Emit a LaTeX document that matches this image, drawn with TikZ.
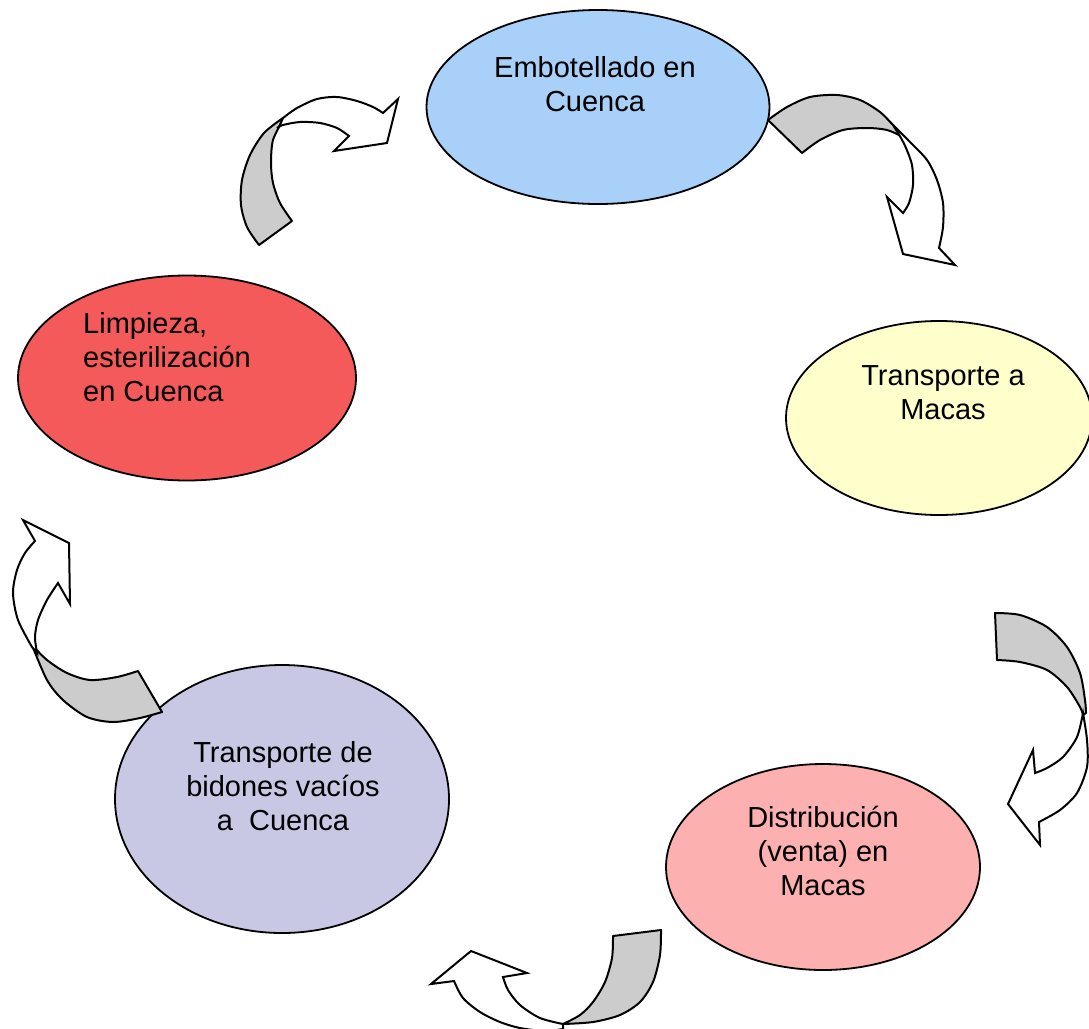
\documentclass[tikz,border=0pt]{standalone}
\usepackage{fontspec}
\setmainfont{Liberation Sans}
\usetikzlibrary{shapes.geometric}
\definecolor{cblue}{HTML}{A8D0F8}
\definecolor{cyellow}{HTML}{FFFFCC}
\definecolor{cpink}{HTML}{FCB0B0}
\definecolor{clav}{HTML}{C8C8E4}
\definecolor{cred}{HTML}{F45A5A}
\definecolor{cgray}{HTML}{CCCCCC}
\tikzset{
  stage/.style={ellipse, draw=black, line width=1.8pt, inner sep=0pt},
  lbl/.style={font=\fontsize{29}{34}\selectfont, align=center, inner sep=0pt},
  back/.style={fill=cgray, draw=black, line width=2pt, line join=round},
  front/.style={fill=white, draw=black, line width=2pt, line join=miter},
}
\begin{document}
\begin{tikzpicture}[x=1pt,y=-1pt]
\path[use as bounding box] (0,0) rectangle (1089,1028);
\begin{scope}
\clip (0,0) rectangle (1089,1028);
% ellipses
\node[stage, fill=cblue, minimum width=343pt, minimum height=194pt] (e1) at (598,107) {};
\node[stage, fill=cyellow, minimum width=306pt, minimum height=194pt] (e2) at (939,418) {};
\node[stage, fill=cpink, minimum width=314pt, minimum height=206pt] (e3) at (823,867) {};
\node[stage, fill=clav, minimum width=334pt, minimum height=268pt] (e4) at (282,799) {};
\node[stage, fill=cred, minimum width=338pt, minimum height=205pt] (e5) at (187,378) {};

% arrow 1 (top-left)
\filldraw[back] (259,245) -- (292,221)
  -- plot[smooth] coordinates {(292,221) (280,203) (273,183) (271,163) (273,140) (283,120)}
  -- plot[smooth] coordinates {(283,118) (264,133) (250,155) (242,180) (241,205) (247,227) (259,245)} -- cycle;
\filldraw[front] (279,127)
  -- plot[smooth] coordinates {(283,118) (297,108) (317,99) (337,97) (357,101) (373,107) (383,113)}
  -- (398,99) -- (387,143) -- (334,151) -- (349,136)
  -- plot[smooth] coordinates {(349,136) (337,128) (320,123) (300,122) (283,125) (277,128)} -- cycle;

% arrow 2 (top-right)
\filldraw[back] (768,120) -- (802,153)
  -- plot[smooth] coordinates {(802,153) (820,140) (843,130) (867,128) (887,130) (903,137) (908,140)}
  -- plot[smooth] coordinates {(908,140) (893,125) (880,112) (860,100) (837,95) (810,97) (787,107) (768,120)} -- cycle;
\filldraw[front] (893,125)
  -- plot[smooth] coordinates {(893,125) (910,142) (927,160) (937,180) (943,203) (943,227) (939,248)}
  -- (955,265) -- (903,254) -- (887,197) -- (903,213)
  -- plot[smooth] coordinates {(903,213) (909,203) (913,185) (912,165) (906,148) (901,138)} -- cycle;

% arrow 3 (right)
\filldraw[back] (995,613) -- (997,660)
  -- plot[smooth] coordinates {(997,660) (1020,662) (1047,670) (1067,687) (1080,707) (1083,715)}
  -- plot[smooth] coordinates {(1086,713) (1085,700) (1080,673) (1067,647) (1047,627) (1020,615) (995,613)} -- cycle;
\filldraw[front] (1083,713)
  -- plot[smooth] coordinates {(1083,713) (1077,737) (1063,757) (1047,768) (1035,773)}
  -- (1033,750) -- (1008,804) -- (1040,845) -- (1039,822)
  -- plot[smooth] coordinates {(1039,822) (1060,810) (1077,793) (1087,767) (1087,740) (1083,713)} -- cycle;

% arrow 4 (bottom)
\filldraw[back] (613,936) -- (661,930)
  -- plot[smooth] coordinates {(661,930) (660,955) (653,982) (640,1002) (620,1015) (593,1022) (563,1024)}
  -- plot[smooth] coordinates {(563,1024) (580,1015) (593,1002) (605,982) (612,958) (613,936)} -- cycle;
\filldraw[front] (563,1024)
  -- plot[smooth] coordinates {(563,1024) (540,1018) (520,1005) (508,990) (503,977)}
  -- (527,973) -- (471,951) -- (431,984) -- (454,981)
  -- plot[smooth] coordinates {(454,981) (463,998) (480,1012) (500,1022) (520,1028) (545,1031) (563,1029)} -- cycle;

% arrow 5 (left)
\filldraw[back] (162,712) -- (138,671)
  -- plot[smooth] coordinates {(138,671) (117,677) (90,680) (67,673) (47,660) (32,645)}
  -- plot[smooth] coordinates {(32,645) (47,680) (63,700) (87,717) (113,722) (140,718) (162,712)} -- cycle;
\filldraw[front] (32,647)
  -- plot[smooth] coordinates {(32,647) (18,620) (13,593) (17,570) (25,553) (35,541)}
  -- (23,520) -- (69,543) -- (70,604) -- (58,583)
  -- plot[smooth] coordinates {(58,583) (47,600) (38,620) (35,637) (37,653)} -- cycle;
\end{scope}

% labels
\node[lbl] (t1) at (595,84) {Embotellado en\\Cuenca};
\node[lbl] (t2) at (943,393) {Transporte a\\Macas};
\node[lbl] (t3) at (823,851) {Distribución\\(venta) en\\Macas};
\node[lbl] (t4) at (283,786) {Transporte de\\bidones vacíos\\a\ \ Cuenca};
\node[lbl, align=left, anchor=west] (t5) at (83,357) {Limpieza,\\esterilización\\en Cuenca};
\end{tikzpicture}
\end{document}
